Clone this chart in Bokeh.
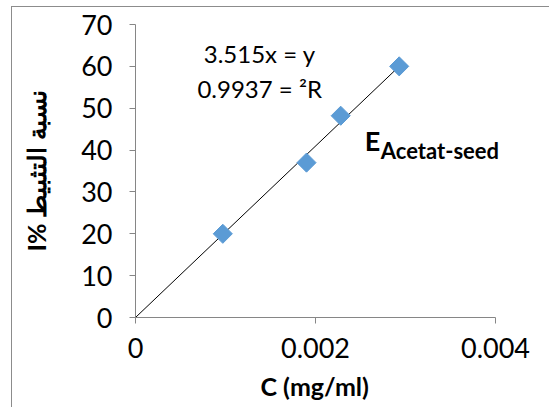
import numpy as np
from bokeh.plotting import figure
from bokeh.models import (Range1d, FixedTicker, CustomJSTickFormatter, Label,
                          ColumnDataSource, Title)
from bokeh.embed import file_html
from bokeh.resources import INLINE

# ---- data ----
conc = [0.00097, 0.00190, 0.00228, 0.00293]     # C (mg/ml)
inhib = [20.0, 37.0, 48.2, 60.0]                 # I %
x_ticks = [0, 0.002, 0.004]
y_ticks = [0, 10, 20, 30, 40, 50, 60, 70]
eq_text = "3.515x = y"
r2_text = "0.9937 = ²R"
series_main = "E"
series_sub = "Acetat-seed"
x_title = "C (mg/ml)"
y_title = "I% نسبة التثبيط"

# trendline through the origin (least squares fit of the points)
xa = np.array(conc)
ya = np.array(inhib)
slope = float((xa * ya).sum() / (xa * xa).sum())
trend_x = [0.0, float(xa.max())]
trend_y = [0.0, slope * float(xa.max())]

FONT = "Lato"
AXIS_COL = "#868686"
X_AXIS_END = 0.004
# frame is widened to the right so that text labels are not clipped;
# the axis itself stops at X_AXIS_END
X_VIEW_END = X_AXIS_END * 415.0 / 360.0

p = figure(width=538, height=401, output_backend="svg", toolbar_location=None,
           x_range=Range1d(0, X_VIEW_END), y_range=Range1d(0, 70),
           min_border_left=123, min_border_right=0,
           min_border_top=17, min_border_bottom=90)
p.styles = {"margin-left": "11px", "margin-top": "6px",
            "border-left": "1px solid #8c8c8c",
            "border-top": "1px solid #8c8c8c"}
p.outline_line_color = None
p.xgrid.grid_line_color = None
p.ygrid.grid_line_color = None
p.background_fill_color = "white"
p.border_fill_color = "white"

for ax in (p.xaxis[0], p.yaxis[0]):
    ax.axis_line_color = AXIS_COL
    ax.major_tick_line_color = AXIS_COL
    ax.minor_tick_line_color = None
    ax.major_tick_in = 0
    ax.major_tick_out = 6
    ax.major_label_text_font = FONT
    ax.major_label_text_font_size = "27px"
    ax.major_label_text_color = "#000000"
    ax.axis_label_text_font = FONT
    ax.axis_label_text_font_style = "bold"
    ax.axis_label_text_color = "#000000"

p.xaxis.bounds = (0, X_AXIS_END)
p.xaxis.ticker = FixedTicker(ticks=x_ticks)
p.yaxis.ticker = FixedTicker(ticks=y_ticks)
p.xaxis.formatter = CustomJSTickFormatter(
    code="return tick == 0 ? '0' : tick.toFixed(3);")
p.xaxis.major_label_standoff = 14
p.yaxis.major_label_standoff = 17
p.yaxis.axis_label = y_title
p.yaxis.axis_label_text_font_size = "25px"
p.yaxis.axis_label_standoff = 27

# x axis title as a panel title (so it stays centred under the real axis)
p.add_layout(Title(text=x_title, align="left", offset=125,
                   text_font=FONT, text_font_style="bold",
                   text_font_size="25px", text_color="#000000",
                   standoff=16), "below")

# trendline
p.line(trend_x, trend_y, line_color="black", line_width=1)

# points (Excel-like diamonds)
src = ColumnDataSource(dict(x=conc, y=inhib))
p.scatter("x", "y", source=src, marker="square", size=13.5, angle=np.pi / 4,
          fill_color="#5B9BD5", line_color="#5B9BD5")

# trendline equation
p.add_layout(Label(x=0.00138, y=63.1, text=eq_text, text_align="center",
                   text_baseline="alphabetic", text_font=FONT,
                   text_font_size="24px", text_color="#000000"))
p.add_layout(Label(x=0.00138, y=54.6, text=r2_text, text_align="center",
                   text_baseline="alphabetic", text_font=FONT,
                   text_font_size="24px", text_color="#000000"))

# series label E_Acetat-seed
p.add_layout(Label(x=0.002548, y=42.2, text=series_main, text_align="left",
                   text_baseline="alphabetic", text_font=FONT,
                   text_font_style="bold", text_font_size="27px",
                   text_color="#000000"))
p.add_layout(Label(x=0.002726, y=39.9, text=series_sub, text_align="left",
                   text_baseline="alphabetic", text_font=FONT,
                   text_font_style="bold", text_font_size="22px",
                   text_color="#000000"))

open("out.html", "w").write(file_html(p, INLINE))
